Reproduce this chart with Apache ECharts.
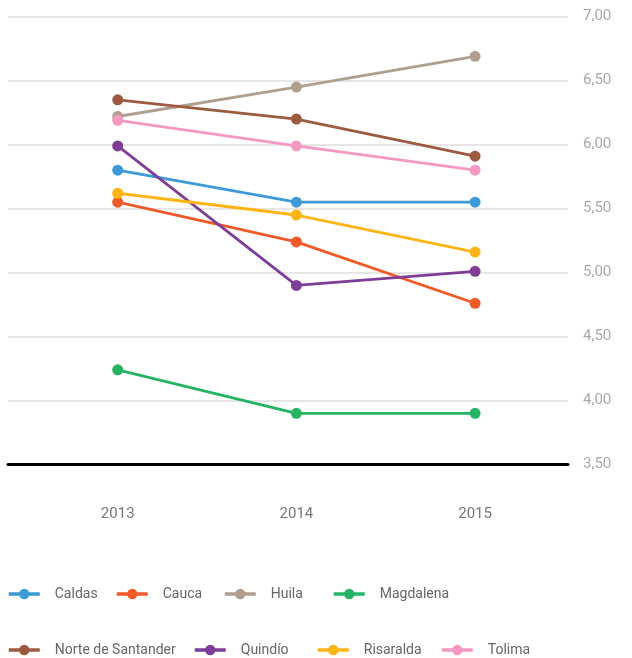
<!DOCTYPE html>
<html><head><meta charset="utf-8">
<script src="https://cdn.jsdelivr.net/npm/echarts@6/dist/echarts.min.js"></script>
<style>html,body{margin:0;padding:0;background:#fff}#c{width:632px;height:658px}</style>
</head><body><div id="c"></div>
<script>
var years = [2013, 2014, 2015];
var yTicks = [3.5, 4, 4.5, 5, 5.5, 6, 6.5, 7];
var names = ['Caldas','Cauca','Huila','Magdalena','Norte de Santander','Quindío','Risaralda','Tolima'];
var caldas = [5.80, 5.55, 5.55];
var cauca = [5.55, 5.24, 4.76];
var huila = [6.22, 6.45, 6.69];
var magdalena = [4.24, 3.90, 3.90];
var norte = [6.35, 6.20, 5.91];
var quindio = [5.99, 4.90, 5.01];
var risaralda = [5.62, 5.45, 5.16];
var tolima = [6.19, 5.99, 5.80];
var colors = ['#3d9ad6','#f05a28','#b09e8f','#25b462','#9c5b3e','#7e3d96','#fdb515','#f49ac2'];
var seriesValues = [caldas, cauca, huila, magdalena, norte, quindio, risaralda, tolima];

var legendPos = [[7,587],[115,587],[223,587],[332,587],[7,643],[193,643],[316,643],[440,643]];
var FONT = 'Roboto, "Open Sans", sans-serif';

var series = names.map(function(n, i){
  return {
    name: n, type: 'line',
    data: years.map(function(y, j){ return [y, seriesValues[i][j]]; }),
    symbol: 'circle', symbolSize: 11,
    lineStyle: {width: 2.8, color: colors[i]},
    itemStyle: {color: colors[i]},
    z: 3
  };
});
var legends = names.map(function(n, i){
  return {
    data: [n], left: legendPos[i][0], top: legendPos[i][1], padding: 0,
    itemWidth: 31, itemHeight: 13,
    lineStyle: {width: 3.5},
    textStyle: {fontFamily: FONT, fontSize: 14, color: '#666', padding: [0,0,0,10]}
  };
});

var chart = echarts.init(document.getElementById('c'), null, {renderer: 'canvas'});
chart.setOption({
  animation: false,
  color: colors,
  grid: {left: 8, right: 64, top: 16.7, bottom: 193.5, containLabel: false},
  legend: legends,
  xAxis: {
    type: 'value', min: 2012.386, max: 2015.52,
    axisLine: {show: true, onZero: false, lineStyle: {color: '#000', width: 3}},
    axisTick: {show: false},
    splitLine: {show: false},
    axisLabel: {customValues: years, margin: 42, fontFamily: FONT, fontSize: 15, color: '#777',
      formatter: function(v){ return String(Math.round(v)); }}
  },
  yAxis: {
    type: 'value', position: 'right', min: 3.5, max: 7, interval: 0.5,
    axisLine: {show: false}, axisTick: {show: false},
    splitLine: {show: true, lineStyle: {color: '#e6e6e6', width: 2}},
    axisLabel: {margin: 15, fontFamily: FONT, fontSize: 15, color: '#a8a8a8',
      formatter: function(v){ return v.toFixed(2).replace('.', ','); }}
  },
  series: series
});
</script></body></html>
